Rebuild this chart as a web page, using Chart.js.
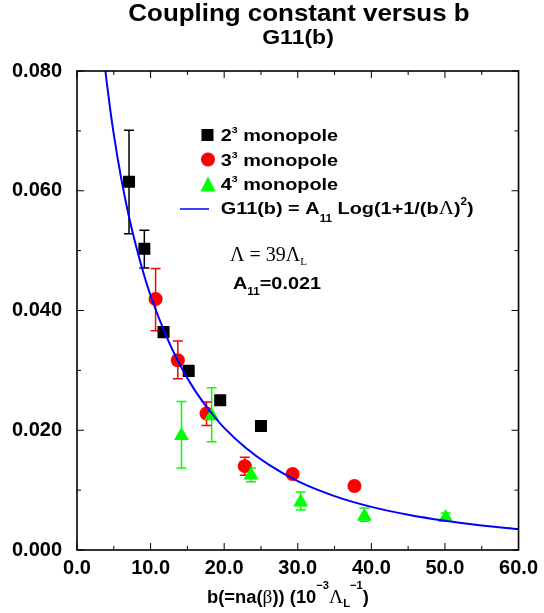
<!DOCTYPE html>
<html>
<head>
<meta charset="utf-8">
<script src="https://cdn.jsdelivr.net/npm/chart.js@4/dist/chart.umd.min.js"></script>
<style>
  html, body { margin: 0; padding: 0; background: #fff; }
</style>
</head>
<body>
<canvas id="couplingChart" width="544" height="613"></canvas>
<script>
//2^3 monopole (black squares)
const b2 = [7.07, 9.15, 11.76, 15.18, 19.46, 25.0];
const g2 = [0.0615, 0.0503, 0.0364, 0.0299, 0.0250, 0.0207];
const g2Lo = [0.0528, 0.0471, 0.0355, 0.0290, null, null];
const g2Hi = [0.0701, 0.0534, 0.0373, 0.0308, null, null];

//3^3 monopole (red circles)
const b3 = [10.68, 13.7, 17.6, 22.8, 29.3, 37.7];
const g3 = [0.0419, 0.0317, 0.0228, 0.0140, 0.0127, 0.0107];
const g3Lo = [0.0366, 0.0286, 0.0208, 0.0125, null, null];
const g3Hi = [0.0470, 0.0349, 0.0247, 0.0155, null, null];

//4^3 monopole (green triangles)
const b4 = [14.2, 18.3, 23.65, 30.4, 39.05, 50.1];
const g4 = [0.0191, 0.0224, 0.0125, 0.0080, 0.0056, 0.0054];
const g4Lo = [0.0137, 0.0181, 0.0114, 0.0067, 0.0048, 0.0048];
const g4Hi = [0.0248, 0.0271, 0.0137, 0.0097, 0.0070, 0.0062];

//fit curve G11(b)
const bFit = [3.8, 4, 4.5, 5, 6, 7, 8, 9, 10, 12, 14, 16, 18, 20, 23, 26, 30, 35, 40, 45, 50, 55, 60];
const gFit = [0.0807, 0.0785, 0.0737, 0.0694, 0.0621, 0.0560, 0.0509, 0.0464, 0.0425, 0.0361, 0.0309,
  0.0267, 0.0233, 0.0204, 0.0170, 0.0143, 0.0115, 0.0090, 0.0072, 0.0059, 0.0049, 0.0041, 0.0035];

//axis ticks
const xTickValues = [0, 10, 20, 30, 40, 50, 60];
const xTickLabels = ['0.0', '10.0', '20.0', '30.0', '40.0', '50.0', '60.0'];
const xMinorTicks = [5, 15, 25, 35, 45, 55];
const yTickValues = [0, 0.02, 0.04, 0.06, 0.08];
const yTickLabels = ['0.000', '0.020', '0.040', '0.060', '0.080'];
const yMinorTicks = [0.01, 0.03, 0.05, 0.07];

const SANS = '"Liberation Sans", Arial, Helvetica, sans-serif';
const SERIF = '"Liberation Serif", "Times New Roman", serif';
const pts = (xs, ys) => xs.map((x, i) => ({ x: x, y: ys[i] }));

//draw a row of text pieces [text, font, dy], optionally stretched sideways
function drawRuns(ctx, x, y, runs, sx, align) {
  ctx.save();
  let total = 0;
  runs.forEach((r) => { ctx.font = r[1]; total += ctx.measureText(r[0]).width; });
  ctx.translate(x, y);
  ctx.scale(sx, 1);
  let cx = align === 'center' ? -total / 2 : 0;
  ctx.fillStyle = '#000';
  ctx.textBaseline = 'alphabetic';
  ctx.textAlign = 'left';
  runs.forEach((r) => {
    ctx.font = r[1];
    ctx.fillText(r[0], cx, r[2] || 0);
    cx += ctx.measureText(r[0]).width;
  });
  ctx.restore();
}

//error bars, drawn under the markers
const errorBars = {
  id: 'errorBars',
  beforeDatasetsDraw(chart) {
    const { ctx, scales: { x, y } } = chart;
    chart.data.datasets.forEach((ds) => {
      if (!ds.errLo) return;
      ctx.save();
      ctx.strokeStyle = ds.errColor;
      ctx.lineWidth = 1.5;
      ds.data.forEach((p, i) => {
        if (ds.errLo[i] == null) return;
        const px = x.getPixelForValue(p.x);
        const y1 = y.getPixelForValue(ds.errLo[i]);
        const y2 = y.getPixelForValue(ds.errHi[i]);
        ctx.beginPath();
        ctx.moveTo(px, y1); ctx.lineTo(px, y2);
        ctx.moveTo(px - 5, y1); ctx.lineTo(px + 5, y1);
        ctx.moveTo(px - 5, y2); ctx.lineTo(px + 5, y2);
        ctx.stroke();
      });
      ctx.restore();
    });
  },
};

//frame with inward ticks on all four sides
const frame = {
  id: 'frame',
  afterDatasetsDraw(chart) {
    const { ctx, chartArea: a, scales: { x, y } } = chart;
    ctx.save();
    ctx.strokeStyle = '#000';
    ctx.lineWidth = 1;
    ctx.beginPath();
    const xt = (v, len) => {
      const px = x.getPixelForValue(v);
      ctx.moveTo(px, a.bottom); ctx.lineTo(px, a.bottom - len);
      ctx.moveTo(px, a.top); ctx.lineTo(px, a.top + len);
    };
    const yt = (v, len) => {
      const py = y.getPixelForValue(v);
      ctx.moveTo(a.left, py); ctx.lineTo(a.left + len, py);
      ctx.moveTo(a.right, py); ctx.lineTo(a.right - len, py);
    };
    xTickValues.forEach((v) => xt(v, 7));
    xMinorTicks.forEach((v) => xt(v, 4));
    yTickValues.forEach((v) => yt(v, 7));
    yMinorTicks.forEach((v) => yt(v, 4));
    ctx.stroke();
    ctx.lineWidth = 1.6;
    ctx.strokeRect(a.left, a.top, a.right - a.left, a.bottom - a.top);
    ctx.restore();
  },
};

//titles, legend, notes and axis label (they need sub/superscripts)
const texts = {
  id: 'texts',
  afterDraw(chart) {
    const ctx = chart.ctx;
    const B = (s) => 'bold ' + s + 'px ' + SANS;
    const R = (s) => s + 'px ' + SERIF;
    drawRuns(ctx, 299, 21, [['Coupling constant versus b', B(24)]], 1.08, 'center');
    drawRuns(ctx, 298, 44, [['G11(b)', B(20)]], 1.15, 'center');

    //legend
    ctx.save();
    ctx.fillStyle = '#000';
    ctx.fillRect(201.5, 129, 12, 12);
    ctx.fillStyle = '#ff0000';
    ctx.beginPath(); ctx.arc(208, 159.5, 7, 0, Math.PI * 2); ctx.fill();
    ctx.fillStyle = '#00ff00';
    ctx.beginPath(); ctx.moveTo(208, 176.5); ctx.lineTo(215.5, 191.5); ctx.lineTo(200.5, 191.5); ctx.closePath(); ctx.fill();
    ctx.strokeStyle = '#0000ff';
    ctx.lineWidth = 1.5;
    ctx.beginPath(); ctx.moveTo(180, 209); ctx.lineTo(209, 209); ctx.stroke();
    ctx.restore();

    drawRuns(ctx, 220.7, 141, [['2', B(17)], ['3', B(9), -8], [' monopole', B(17)]], 1.17);
    drawRuns(ctx, 220.7, 165.5, [['3', B(17)], ['3', B(9), -8], [' monopole', B(17)]], 1.17);
    drawRuns(ctx, 220.7, 190, [['4', B(17)], ['3', B(9), -8], [' monopole', B(17)]], 1.17);
    drawRuns(ctx, 220.7, 213.5, [
      ['G11(b) = A', B(17)], ['11', B(10), 8], [' Log(1+1/(b', B(17)], ['\u039B', R(18)],
      [')', B(17)], ['2', B(10), -9], [')', B(17)],
    ], 1.17);

    //fit parameters
    drawRuns(ctx, 230, 261, [['\u039B = 39\u039B', R(20)], ['L', R(11), 4]], 1.0);
    drawRuns(ctx, 233, 288.5, [['A', B(17)], ['11', B(10), 6], ['=0.021', B(17)]], 1.17);

    //x axis label
    drawRuns(ctx, 207, 603, [
      ['b(=na(', B(18)], ['\u03B2', R(19)], [')) (10', B(18)], ['\u22123', B(11), -14],
      ['\u039B', R(19)], ['L', B(11), 4], ['\u22121', B(11), -14], [')', B(18)],
    ], 1.02);
  },
};

Chart.defaults.color = '#000';
Chart.defaults.font.family = SANS;

const couplingChart = new Chart('couplingChart', {
  type: 'scatter',
  data: {
    datasets: [
      {
        //fit line, on top of everything
        data: pts(bFit, gFit),
        showLine: true,
        borderColor: '#0000ff',
        borderWidth: 2,
        pointRadius: 0,
        cubicInterpolationMode: 'monotone',
        order: 0,
      },
      {
        data: pts(b4, g4),
        errLo: g4Lo, errHi: g4Hi, errColor: '#00ff00',
        pointStyle: 'triangle',
        pointRadius: 8.7,
        backgroundColor: '#00ff00',
        borderWidth: 0,
        order: 1,
      },
      {
        data: pts(b2, g2),
        errLo: g2Lo, errHi: g2Hi, errColor: '#000000',
        pointStyle: 'rect',
        pointRadius: 8.5,
        backgroundColor: '#000000',
        borderWidth: 0,
        order: 2,
      },
      {
        data: pts(b3, g3),
        errLo: g3Lo, errHi: g3Hi, errColor: '#ff0000',
        pointStyle: 'circle',
        pointRadius: 7,
        backgroundColor: '#ff0000',
        borderWidth: 0,
        order: 3,
      },
    ],
  },
  options: {
    responsive: false,
    animation: false,
    events: [],
    layout: { padding: { top: 71, right: 23, left: 0, bottom: 0 } },
    plugins: {
      legend: { display: false },
      tooltip: { enabled: false },
    },
    scales: {
      x: {
        type: 'linear',
        min: 0,
        max: 60,
        grid: { display: false, drawTicks: false },
        border: { display: false },
        afterBuildTicks: (s) => { s.ticks = xTickValues.map((v) => ({ value: v })); },
        afterFit: (s) => { s.height = 63; },
        ticks: {
          autoSkip: false,
          maxRotation: 0,
          padding: 6,
          color: '#000',
          font: { size: 20, weight: 'bold' },
          callback: (v, i) => xTickLabels[i],
        },
      },
      y: {
        type: 'linear',
        min: 0,
        max: 0.08,
        grid: { display: false, drawTicks: false },
        border: { display: false },
        afterBuildTicks: (s) => { s.ticks = yTickValues.map((v) => ({ value: v })); },
        afterFit: (s) => { s.width = 77; },
        ticks: {
          autoSkip: false,
          padding: 15,
          color: '#000',
          font: { size: 20, weight: 'bold' },
          callback: (v, i) => yTickLabels[i],
        },
      },
    },
  },
  plugins: [errorBars, frame, texts],
});
</script>
</body>
</html>
